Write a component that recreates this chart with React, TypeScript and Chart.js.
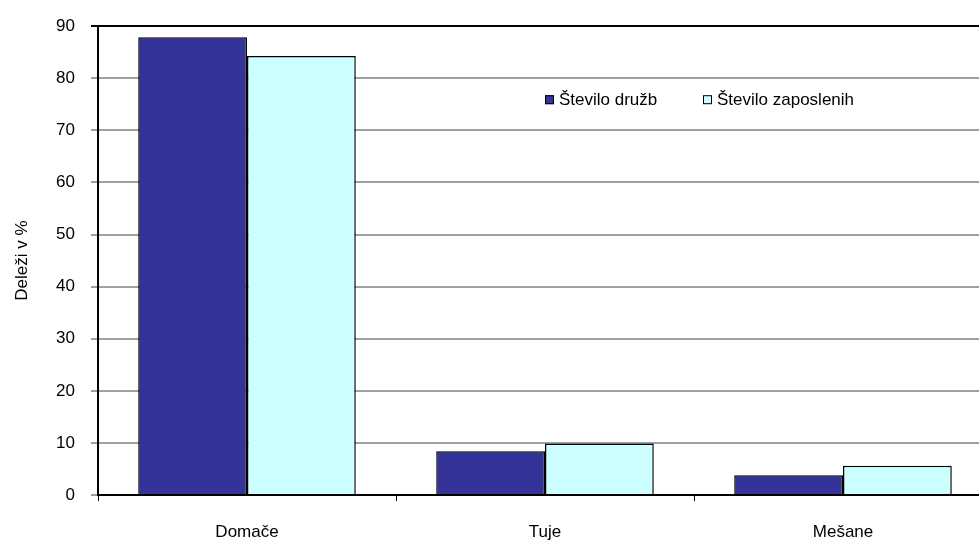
import React, { useEffect, useRef } from "react";
import { Chart, registerables } from "chart.js";

Chart.register(...registerables);

const categories = ["Domače", "Tuje", "Mešane"];
const seriesNames = ["Število družb", "Število zaposlenih"];
const steviloDruzb = [87.9, 8.4, 3.8];
const steviloZaposlenih = [84.3, 9.9, 5.6];
const yTicks = [0, 10, 20, 30, 40, 50, 60, 70, 80, 90];
const yTitle = "Deleži v %";

const FONT = '"Liberation Sans", Arial, sans-serif';

const legendPlugin = {
  id: "insideLegend",
  afterDraw(chart: any) {
    const ctx = chart.ctx;
    const area = chart.chartArea;
    const y = area.top + 74;
    const starts = [area.left + 447, area.left + 605];
    ctx.save();
    ctx.font = `17px ${FONT}`;
    ctx.textBaseline = "middle";
    ctx.textAlign = "left";
    chart.data.datasets.forEach((ds: any, i: number) => {
      const x = starts[i];
      ctx.fillStyle = ds.backgroundColor;
      ctx.fillRect(x, y - 5, 9, 9);
      ctx.strokeStyle = "#000";
      ctx.lineWidth = 1;
      ctx.strokeRect(x + 0.5, y - 4.5, 8, 8);
      ctx.fillStyle = "#000";
      ctx.fillText(ds.label, x + 14, y);
    });
    ctx.restore();
  },
};

export default function App() {
  const ref = useRef<HTMLCanvasElement>(null);
  useEffect(() => {
    if (!ref.current) return;
    const chart = new Chart(ref.current, {
      type: "bar",
      data: {
        labels: categories,
        datasets: [
          {
            label: seriesNames[0],
            data: steviloDruzb,
            backgroundColor: "#333399",
            borderColor: "#000",
            borderWidth: 1.5,
          },
          {
            label: seriesNames[1],
            data: steviloZaposlenih,
            backgroundColor: "#CCFFFF",
            borderColor: "#000",
            borderWidth: 1.5,
          },
        ],
      },
      plugins: [legendPlugin],
      options: {
        animation: false,
        responsive: false,
        layout: { padding: { top: 23, right: 8, left: 0, bottom: 0 } },
        plugins: { legend: { display: false }, tooltip: { enabled: false } },
        datasets: { bar: { categoryPercentage: 0.73, barPercentage: 1 } },
        scales: {
          x: {
            offset: true,
            grid: {
              offset: true,
              drawOnChartArea: false,
              drawTicks: true,
              tickLength: 6,
              color: "#000",
              lineWidth: 1,
            },
            border: { display: true, color: "#000", width: 2 },
            ticks: {
              color: "#000",
              padding: 21,
              font: { family: FONT, size: 17 },
              maxRotation: 0,
            },
            afterFit(scale: any) {
              scale.height = 46;
            },
          },
          y: {
            min: 0,
            max: 90,
            afterBuildTicks(scale: any) {
              scale.ticks = yTicks.map((v) => ({ value: v }));
            },
            grid: {
              drawTicks: true,
              tickLength: 7,
              color: (ctx: any) => (ctx.tick && ctx.tick.value === 90 ? "#000" : "#a0a0a0"),
              lineWidth: 2,
            },
            border: { display: true, color: "#000", width: 2 },
            ticks: {
              color: "#000",
              padding: 16,
              font: { family: FONT, size: 17 },
            },
            title: {
              display: true,
              text: yTitle,
              color: "#000",
              font: { family: FONT, size: 17 },
              padding: { top: 12, bottom: 0 },
            },
            afterFit(scale: any) {
              scale.width = 98;
            },
          },
        },
      },
    });
    return () => chart.destroy();
  }, []);
  return (
    <div
      style={{
        position: "fixed",
        left: 0,
        top: 0,
        width: 979,
        height: 541,
        overflow: "hidden",
        background: "#fff",
      }}
    >
      <canvas ref={ref} width={1000} height={541} style={{ width: 1000, height: 541, display: "block" }} />
    </div>
  );
}
